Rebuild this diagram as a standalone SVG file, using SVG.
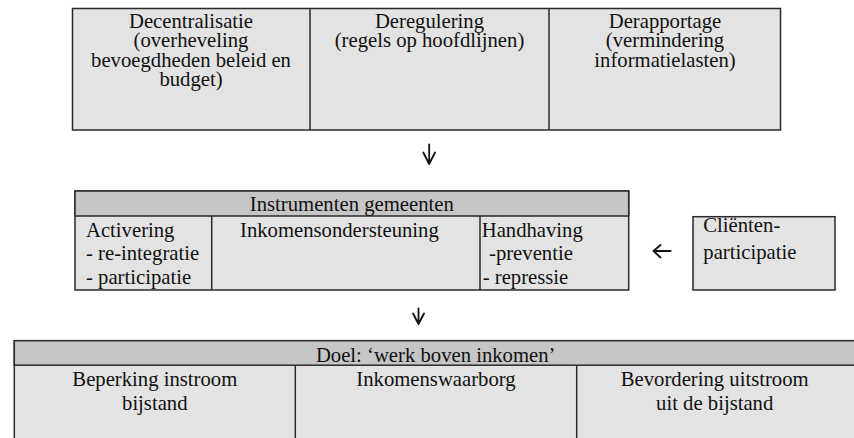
<svg xmlns="http://www.w3.org/2000/svg" width="854" height="438" viewBox="0 0 854 438">
<style>
  .cell { fill: #e3e3e3; stroke: #2a2a2a; stroke-width: 1.5; }
  .head { fill: #c6c6c6; stroke: #2a2a2a; stroke-width: 1.5; }
  .div { stroke: #2a2a2a; stroke-width: 1.5; }
  .t { font-family: 'Liberation Serif', 'DejaVu Serif', 'Times New Roman', serif; font-size: 20.7px; fill: #111; }
  .c { text-anchor: middle; }
  .arrow { fill: none; stroke: #111; stroke-width: 1.8; stroke-linecap: round; stroke-linejoin: round; }
</style>
<rect width="854" height="438" fill="#ffffff"/>

<g id="top-box">
  <rect class="cell" x="72.5" y="8.5" width="708" height="121.5"/>
  <line class="div" x1="310" y1="8.5" x2="310" y2="130"/>
  <line class="div" x1="549" y1="8.5" x2="549" y2="130"/>
  <g id="decentralisatie">
    <text class="t c" x="191" y="27.5">Decentralisatie</text>
    <text class="t c" x="191" y="47">(overheveling</text>
    <text class="t c" x="191" y="66.7">bevoegdheden beleid en</text>
    <text class="t c" x="191" y="86.2">budget)</text>
  </g>
  <g id="deregulering">
    <text class="t c" x="429.5" y="27.5">Deregulering</text>
    <text class="t c" x="429.5" y="47">(regels op hoofdlijnen)</text>
  </g>
  <g id="derapportage">
    <text class="t c" x="665" y="27.5">Derapportage</text>
    <text class="t c" x="665" y="47">(vermindering</text>
    <text class="t c" x="665" y="66.7">informatielasten)</text>
  </g>
</g>

<g id="instrumenten">
  <rect class="cell" x="75" y="191" width="553.7" height="99"/>
  <rect class="head" x="75" y="191" width="553.7" height="25"/>
  <line class="div" x1="211.7" y1="216" x2="211.7" y2="290"/>
  <line class="div" x1="480" y1="216" x2="480" y2="290"/>
  <text class="t c" x="351.8" y="210.5">Instrumenten gemeenten</text>
  <g id="activering">
    <text class="t" x="86" y="236.7">Activering</text>
    <text class="t" x="86" y="260">- re-integratie</text>
    <text class="t" x="86" y="283.5">- participatie</text>
  </g>
  <g id="inkomensondersteuning">
    <text class="t" x="240" y="236.7">Inkomensondersteuning</text>
  </g>
  <g id="handhaving">
    <text class="t" x="481.7" y="236.7">Handhaving</text>
    <text class="t" x="489" y="260">-preventie</text>
    <text class="t" x="482.7" y="283.5">- repressie</text>
  </g>
</g>

<g id="clientenparticipatie">
  <rect class="cell" x="693" y="216.7" width="142" height="73.3"/>
  <text class="t" x="703.3" y="231.7">Cliënten-</text>
  <text class="t" x="703.3" y="258.5">participatie</text>
</g>

<g id="doel">
  <rect class="cell" x="14.3" y="340.7" width="842" height="110"/>
  <rect class="head" x="14.3" y="340.7" width="842" height="24.5"/>
  <line class="div" x1="295.3" y1="365" x2="295.3" y2="440"/>
  <line class="div" x1="576.7" y1="365" x2="576.7" y2="440"/>
  <text class="t c" x="435.7" y="361.5">Doel: ‘werk boven inkomen’</text>
  <g id="beperking">
    <text class="t c" x="154.8" y="385.5">Beperking instroom</text>
    <text class="t c" x="154.8" y="410">bijstand</text>
  </g>
  <g id="inkomenswaarborg">
    <text class="t c" x="436" y="385.5">Inkomenswaarborg</text>
  </g>
  <g id="bevordering">
    <text class="t c" x="714.7" y="385.5">Bevordering uitstroom</text>
    <text class="t c" x="714.7" y="410">uit de bijstand</text>
  </g>
</g>

<g id="connectors">
  <path class="arrow" d="M429.2,144.3 V164 M423.3,152.5 L429.2,164 L435,152.5"/>
  <path class="arrow" d="M670.7,251 H653.5 M660.5,245 L653.5,251 L660.5,257.5"/>
  <path class="arrow" d="M418.5,308.3 V324 M413,313.5 L418.5,324 L424,313.5"/>
</g>
</svg>
